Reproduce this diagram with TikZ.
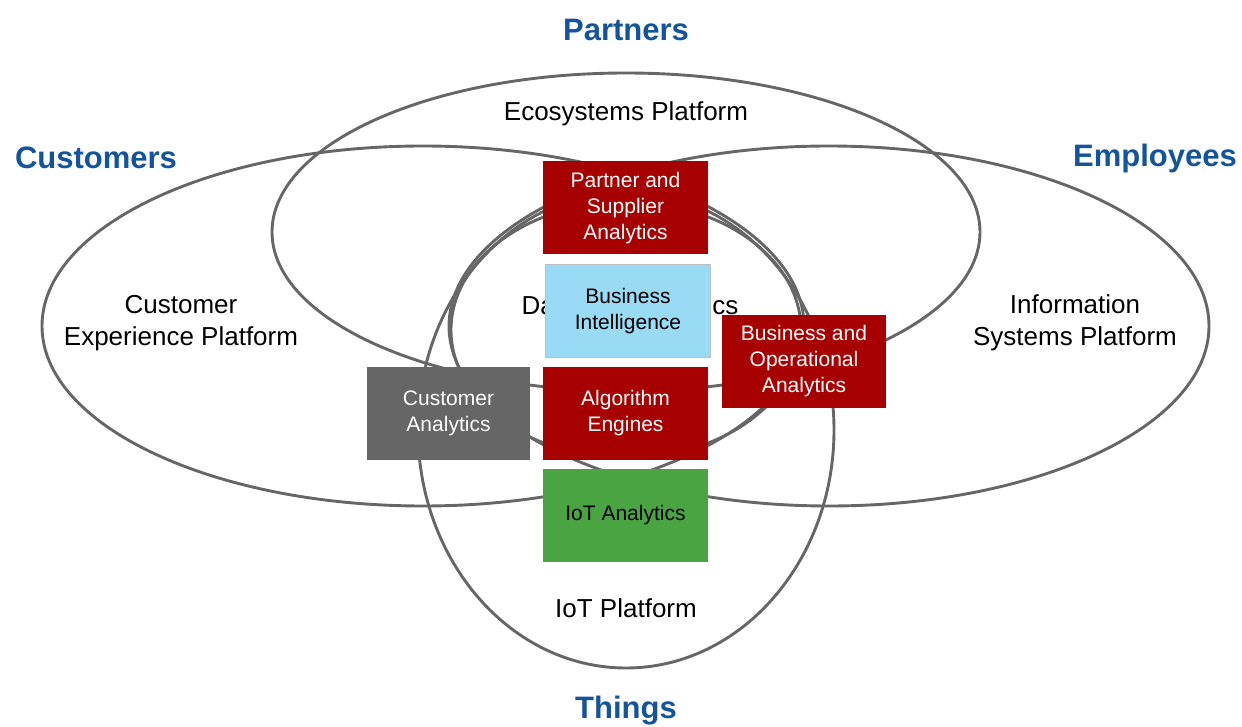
\documentclass[tikz,border=0pt]{standalone}
\usepackage{fontspec}
\setmainfont{Liberation Sans}
\definecolor{ringgray}{RGB}{102,102,102}
\definecolor{boxred}{RGB}{166,0,0}
\definecolor{boxgray}{RGB}{102,102,102}
\definecolor{boxgreen}{RGB}{74,164,66}
\definecolor{boxblue}{RGB}{153,218,244}
\definecolor{headblue}{RGB}{20,84,156}
\tikzset{
  ring/.style={draw=ringgray, line width=2.9pt},
  plat/.style={inner sep=0pt, align=center, text=black, font=\fontsize{26}{32}\selectfont},
  head/.style={inner sep=0pt, text=headblue, font=\bfseries\fontsize{31}{34}\selectfont},
  abox/.style={minimum width=165pt, minimum height=93pt, inner sep=0pt, align=center, font=\fontsize{21}{26}\selectfont},
  redbox/.style={abox, fill=boxred, text=white},
  graybox/.style={abox, fill=boxgray, text=white},
  greenbox/.style={abox, fill=boxgreen, text=black},
  bluebox/.style={abox, fill=boxblue, draw=black!25, line width=0.6pt, text=black}
}
\begin{document}
\begin{tikzpicture}[x=1pt,y=-1pt]
\useasboundingbox (0,0) rectangle (1242,727);
% platform rings
\draw[ring] (626,232) ellipse [x radius=354pt, y radius=159pt];
\draw[ring] (423,326) ellipse [x radius=381pt, y radius=180pt];
\draw[ring] (829,326) ellipse [x radius=380pt, y radius=180pt];
\draw[ring] (626,430) ellipse [x radius=208pt, y radius=238pt];
\draw[ring] (626,330) ellipse [x radius=175pt, y radius=128pt];
% platform labels
\node[plat] (ecoL) at (626,114) {Ecosystems Platform};
\node[plat] (custL) at (181,323) {Customer\\Experience Platform};
\node[plat] (infoL) at (1075,323) {Information\\Systems Platform};
\node[plat] (iotL) at (626,608) {IoT Platform};
\node[plat] (daL) at (630,308) {Data and Analytics};
% headings
\node[head] (partners) at (626,30) {Partners};
\node[head] (customers) at (96,158) {Customers};
\node[head] (employees) at (1155,158) {Employees};
\node[head] (things) at (626,711) {Things};
% analytics boxes
\node[redbox] (psa) at (625.5,208) {Partner and\\Supplier\\Analytics};
\node[bluebox] (bi) at (628,311) {Business\\Intelligence};
\node[redbox] (alg) at (625.5,413) {Algorithm\\Engines};
\node[greenbox] (iotA) at (625.5,515.5) {IoT Analytics};
\node[graybox, minimum width=163pt] (ca) at (448.5,413) {Customer\\Analytics};
\node[redbox, minimum width=164pt] (boa) at (804,361.5) {Business and\\Operational\\Analytics};
\end{tikzpicture}
\end{document}
